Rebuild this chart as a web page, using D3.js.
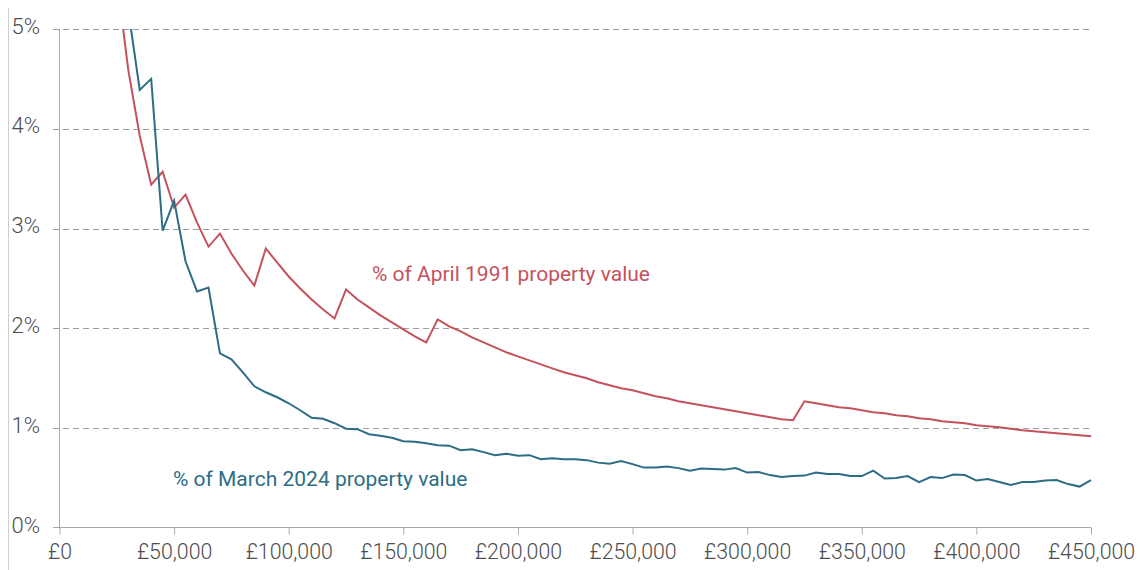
<!DOCTYPE html>
<html>
<head>
<meta charset="utf-8">
<script src="https://cdn.jsdelivr.net/npm/d3@7"></script>
<style>
  body { margin: 0; background: #fff; }
  text { font-family: Roboto, "Noto Sans", sans-serif; font-weight: 300; }
</style>
</head>
<body>
<div id="chart"></div>
<script>
// property value, £ thousands
const prices = [25, 30, 35, 40, 45, 50, 55, 60, 65, 70, 75, 80, 85, 90, 95, 100, 105, 110, 115, 120,
    125, 130, 135, 140, 145, 150, 155, 160, 165, 170, 175, 180, 185, 190, 195, 200, 205, 210, 215, 220,
    225, 230, 235, 240, 245, 250, 255, 260, 265, 270, 275, 280, 285, 290, 295, 300, 305, 310, 315, 320,
    325, 330, 335, 340, 345, 350, 355, 360, 365, 370, 375, 380, 385, 390, 395, 400, 405, 410, 415, 420,
    425, 430, 435, 440, 445, 450];

// % of April 1991 property value
const april1991 = [5.51, 4.59, 3.93, 3.44, 3.57, 3.21, 3.34, 3.06, 2.82, 2.95, 2.75, 2.58, 2.43, 2.80, 2.66, 2.52, 2.40, 2.29, 2.19, 2.10,
    2.39, 2.29, 2.21, 2.13, 2.06, 1.99, 1.92, 1.86, 2.09, 2.02, 1.97, 1.91, 1.86, 1.81, 1.76, 1.72, 1.68, 1.64, 1.60, 1.56,
    1.53, 1.50, 1.46, 1.43, 1.40, 1.38, 1.35, 1.32, 1.30, 1.27, 1.25, 1.23, 1.21, 1.19, 1.17, 1.15, 1.13, 1.11, 1.09, 1.08,
    1.27, 1.25, 1.23, 1.21, 1.20, 1.18, 1.16, 1.15, 1.13, 1.12, 1.10, 1.09, 1.07, 1.06, 1.05, 1.03, 1.02, 1.01, 0.995, 0.98,
    0.97, 0.96, 0.95, 0.94, 0.93, 0.92];

// % of March 2024 property value
const march2024 = [6.30, 5.19, 4.39, 4.50, 2.98, 3.28, 2.67, 2.37, 2.41, 1.75, 1.69, 1.56, 1.42, 1.36, 1.31, 1.25, 1.18, 1.105, 1.095, 1.05,
    0.995, 0.99, 0.94, 0.925, 0.905, 0.87, 0.865, 0.85, 0.83, 0.825, 0.78, 0.79, 0.76, 0.73, 0.745, 0.725, 0.73, 0.69, 0.70, 0.69,
    0.69, 0.68, 0.655, 0.645, 0.67, 0.64, 0.605, 0.605, 0.615, 0.60, 0.575, 0.595, 0.59, 0.585, 0.60, 0.555, 0.56, 0.53, 0.51, 0.52,
    0.525, 0.555, 0.54, 0.54, 0.52, 0.52, 0.575, 0.495, 0.50, 0.52, 0.46, 0.51, 0.50, 0.535, 0.53, 0.475, 0.49, 0.46, 0.43, 0.46,
    0.46, 0.475, 0.48, 0.44, 0.415, 0.48];

const xTicks = [0, 50, 100, 150, 200, 250, 300, 350, 400, 450];
const yTicks = [0, 1, 2, 3, 4, 5];

const series = [
    { name: "% of April 1991 property value", values: april1991, color: "#c4525c", labelAt: [136.3, 2.47] },
    { name: "% of March 2024 property value", values: march2024, color: "#2c6d85", labelAt: [49.5, 0.42] }
];

/* dimensions */
var W = 1146, H = 570;
var margin = { top: 29, right: 55, bottom: 42, left: 59.5 },
    width = W - margin.left - margin.right,
    height = H - margin.top - margin.bottom;

var root = d3.select("#chart")
    .append("svg")
    .attr("width", W)
    .attr("height", H);

/* faint frame line on the left */
root.append("line")
    .attr("x1", 8.5).attr("x2", 8.5)
    .attr("y1", 8).attr("y2", H)
    .style("stroke", "#cfcfcf")
    .style("stroke-width", 1);

var svg = root.append("g")
    .attr("transform", "translate(" + margin.left + "," + margin.top + ")");

var x = d3.scaleLinear().domain([0, 450]).range([0, width]);
var y = d3.scaleLinear().domain([0, 5]).range([height, 0]);

/* gridlines */
svg.selectAll(".grid")
    .data(yTicks.filter(function(d) { return d > 0; }))
    .enter().append("line")
    .attr("class", "grid")
    .attr("x1", -6.5)
    .attr("x2", width)
    .attr("y1", function(d) { return Math.round(y(d)) + 0.5; })
    .attr("y2", function(d) { return Math.round(y(d)) + 0.5; })
    .style("stroke", "#9d9d9d")
    .style("stroke-width", 1)
    .style("stroke-dasharray", "6,4");

/* y axis line */
svg.append("line")
    .attr("x1", 0).attr("x2", 0)
    .attr("y1", y(5)).attr("y2", height)
    .style("stroke", "#a8a8a8")
    .style("stroke-width", 1);

/* x axis */
var xAxis = svg.append("g")
    .attr("transform", "translate(0," + (Math.round(height) - 0.5) + ")")
    .call(d3.axisBottom(x).tickValues(xTicks).tickSize(7).tickSizeOuter(0)
        .tickFormat(function(d) { return d === 0 ? "£0" : "£" + d3.format(",")(d * 1000); }));
xAxis.select(".domain")
    .attr("d", "M-6.5,0H" + width)
    .style("stroke", "#a8a8a8");
xAxis.selectAll(".tick line").style("stroke", "#a8a8a8");
xAxis.selectAll(".tick text")
    .attr("y", 0)
    .attr("dy", "31.5px")
    .style("font-size", "21.3px")
    .style("font-family", "Roboto, sans-serif")
    .style("font-weight", 300)
    .style("fill", "#4d4d4d");

/* y labels */
svg.selectAll(".ylab")
    .data(yTicks)
    .enter().append("text")
    .attr("class", "ylab")
    .attr("x", -19.5)
    .attr("y", function(d) { return y(d) + 4.5; })
    .attr("text-anchor", "end")
    .style("font-size", "22px")
    .style("fill", "#4d4d4d")
    .text(function(d) { return d + "%"; });

/* clip lines at the top of the plot */
svg.append("clipPath")
    .attr("id", "plotclip")
    .append("rect")
    .attr("x", 0).attr("y", 0)
    .attr("width", width + 2).attr("height", height);

var line = d3.line()
    .x(function(d, i) { return x(prices[i]); })
    .y(function(d) { return y(d); });

svg.selectAll(".series")
    .data(series)
    .enter().append("path")
    .attr("class", "series")
    .attr("clip-path", "url(#plotclip)")
    .attr("d", function(d) { return line(d.values); })
    .style("fill", "none")
    .style("stroke", function(d) { return d.color; })
    .style("stroke-width", 2)
    .style("stroke-linejoin", "miter");

/* direct labels */
svg.selectAll(".slab")
    .data(series)
    .enter().append("text")
    .attr("class", "slab")
    .attr("x", function(d) { return x(d.labelAt[0]); })
    .attr("y", function(d) { return y(d.labelAt[1]); })
    .style("font-size", "21px")
    .style("font-weight", 400)
    .style("fill", function(d) { return d.color; })
    .text(function(d) { return d.name; });
</script>
</body>
</html>
